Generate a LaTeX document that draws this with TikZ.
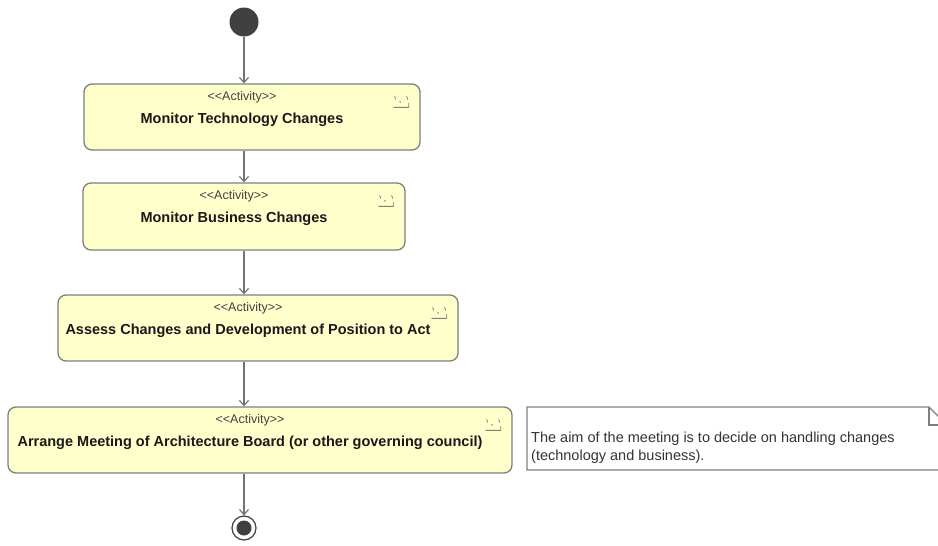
\documentclass[tikz,border=0pt]{standalone}
\usepackage{fontspec}
\setmainfont{Liberation Sans}
\usetikzlibrary{arrows.meta,calc}
\definecolor{actfill}{HTML}{FFFFCC}
\definecolor{actline}{HTML}{7F7F7F}
\definecolor{nodedark}{HTML}{404040}
\begin{document}
\begin{tikzpicture}[x=1pt,y=-1pt,
  actbox/.style={draw=actline, line width=1.3pt, fill=actfill, rounded corners=8pt, inner sep=0pt},
  stereo/.style={font=\fontsize{12.5}{14}\selectfont, text=black!75, inner sep=0pt},
  actname/.style={font=\bfseries\fontsize{14.5}{16}\selectfont, text=black!90, inner sep=0pt},
  flow/.style={draw=black!55, line width=1.2pt, -{Straight Barb[length=5pt,width=9pt]}},
  notebox/.style={draw=actline, line width=1.2pt, fill=white},
  notetxt/.style={font=\fontsize{14.5}{18}\selectfont, text=black!80, align=left, inner sep=0pt},
  rake/.pic={
    \draw[black!50, line width=0.8pt, line cap=round]
      (0,12) -- (15,12)
      (1,1) -- (2,4) (13,1) -- (14,4) (6,6) -- (7,7) (15,8) -- (15,12);
  }
]
\useasboundingbox (0,0) rectangle (938,546);

% start node
\node[circle, fill=nodedark, minimum size=29pt, inner sep=0pt] (init) at (244,22) {};

% activity boxes
\node[actbox, minimum width=336pt, minimum height=66pt] (a1) at (252,117) {};
\node[actbox, minimum width=322pt, minimum height=67pt] (a2) at (244,216.5) {};
\node[actbox, minimum width=400pt, minimum height=66pt] (a3) at (258,328) {};
\node[actbox, minimum width=504pt, minimum height=66pt] (a4) at (260,440) {};

\foreach \b/\t in {a1/Monitor Technology Changes,
                   a2/Monitor Business Changes,
                   a3/Assess Changes and Development of Position to Act,
                   a4/Arrange Meeting of Architecture Board (or other governing council)}{
  \node[stereo] (\b-st) at ($(\b.north)+(-10,14)$) {<{}<Activity>{}>};
  \node[actname] (\b-nm) at ($(\b.north)+(-10,36)$) {\t};
  \pic at ($(\b.north east)+(-27,12)$) {rake};
}

% end node
\node[circle, draw=nodedark, line width=1.2pt, fill=white, minimum size=24pt, inner sep=0pt] (final) at (244,528) {};
\fill[nodedark] (final.center) circle (7.5pt);

% control flows
\draw[flow] (init) -- (init |- a1.north);
\draw[flow] (init |- a1.south) -- (init |- a2.north);
\draw[flow] (init |- a2.south) -- (init |- a3.north);
\draw[flow] (init |- a3.south) -- (init |- a4.north);
\draw[flow] (init |- a4.south) -- (final);

% comment note
\draw[notebox] (527,407) -- (929,407) -- (948,426) -- (948,470) -- (527,470) -- cycle;
\draw[actline, line width=1.2pt] (929,407) -- (929,425) -- (948,425);
\node[notetxt, anchor=north west] (note) at (531,432)
  {The aim of the meeting is to decide on handling changes\\(technology and business).};
\end{tikzpicture}
\end{document}
